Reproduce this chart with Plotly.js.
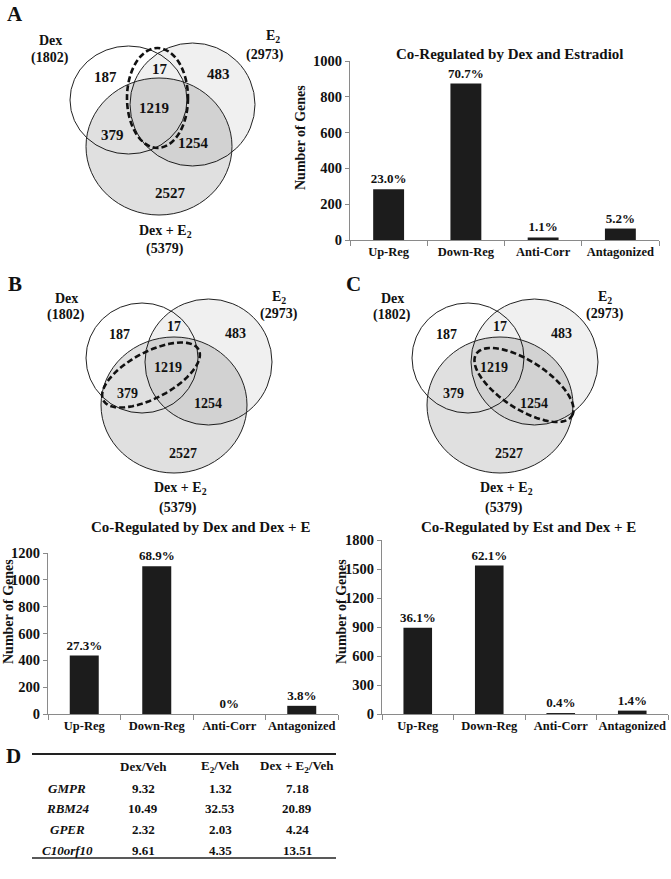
<!DOCTYPE html>
<html><head><meta charset="utf-8">
<script src="https://cdn.plot.ly/plotly-3.0.1.min.js"></script>
<style>html,body{margin:0;padding:0;background:#fff}#chart{width:671px;height:879px}</style>
</head><body><div id="chart"></div>
<script>
// ---------------- DATA ----------------
const vennSetNames = ['Dex', 'E<sub>2</sub>', 'Dex + E<sub>2</sub>'];
const vennSetTotals = [1802, 2973, 5379];
// regions: Dex only, Dex∩E2 only, E2 only, all three, Dex∩(Dex+E2) only, E2∩(Dex+E2) only, (Dex+E2) only
const vennRegionCounts = [187, 17, 483, 1219, 379, 1254, 2527];

const barCategories = ['Up-Reg', 'Down-Reg', 'Anti-Corr', 'Antagonized'];
const barTitles = ['Co-Regulated by Dex and Estradiol', 'Co-Regulated by Dex and Dex + E', 'Co-Regulated by Est and Dex + E'];
const countsA = [284, 874, 14, 64];
const pctA = ['23.0%', '70.7%', '1.1%', '5.2%'];
const countsB = [436, 1101, 0, 61];
const pctB = ['27.3%', '68.9%', '0%', '3.8%'];
const countsC = [892, 1536, 10, 35];
const pctC = ['36.1%', '62.1%', '0.4%', '1.4%'];
const yTitle = 'Number of Genes';

const tableHeaders = ['Dex/Veh', 'E<sub>2</sub>/Veh', 'Dex + E<sub>2</sub>/Veh'];
const tableGenes = ['GMPR', 'RBM24', 'GPER', 'C10orf10'];
const tableDexVeh = [9.32, 10.49, 2.32, 9.61];
const tableE2Veh = [1.32, 32.53, 2.03, 4.35];
const tableDexE2Veh = [7.18, 20.89, 4.24, 13.51];

// ---------------- LAYOUT GEOMETRY (page pixels) ----------------
const W = 671, H = 879;
const FF = 'Liberation Serif';
const INK = '#111';
const venns = [
  { circles: [[70,187,46,154],[130,255,43,166],[86,232,78,215]],
    dashed: {type:'box', x0:127, x1:188, y0:48, y1:148},
    regions: [[105,77],[160,69],[218,74],[154,108],[112,135],[193,143],[170,193]],
    setLabels: [[[50,40],[50,58]], [[273,36],[265,55]], [[165,231],[165,249]]],
    numSize: 15 },
  { circles: [[86,198,303,413],[145,272,299,425],[101,247,337,473]],
    dashed: {type:'rot', cx:151, cy:375, a:54, b:23, ang:28},
    regions: [[119,334],[174,326],[235,333],[168,367],[127,393],[208,403],[183,453]],
    setLabels: [[[66,298],[66,315]], [[279,297],[279,314]], [[180,488],[178,508]]],
    numSize: 14 },
  { circles: [[412,524,303,413],[471,598,299,425],[427,573,337,473]],
    dashed: {type:'rot', cx:524, cy:385, a:57, b:24, ang:-33},
    regions: [[446,334],[500,326],[561,333],[494,367],[453,393],[534,403],[509,453]],
    setLabels: [[[392,298],[392,315]], [[605,297],[605,314]], [[506,488],[504,508]]],
    numSize: 14 }
];
const vennFills = ['rgba(255,255,255,0)', 'rgba(0,0,0,0.06)', 'rgba(0,0,0,0.12)'];

function ellipsePath(cx, cy, a, b, angDeg) {
  const t = angDeg * Math.PI / 180, n = 72;
  let p = '';
  for (let i = 0; i <= n; i++) {
    const f = 2 * Math.PI * i / n;
    const ex = a * Math.cos(f), ey = b * Math.sin(f);
    const x = cx + ex * Math.cos(t) - ey * Math.sin(t);
    const y = cy - (ex * Math.sin(t) + ey * Math.cos(t));
    p += (i === 0 ? 'M' : 'L') + x.toFixed(2) + ',' + y.toFixed(2);
  }
  return p + 'Z';
}

const shapes = [], annotations = [];
function txt(x, y, text, size, extra) {
  annotations.push(Object.assign({ xref:'x4', yref:'y4', x, y, text, showarrow:false,
    xanchor:'center', yanchor:'middle',
    font:{ family: FF, size, color: INK, weight: 'bold' } }, extra || {}));
}

venns.forEach(v => {
  v.circles.forEach((c, i) => {
    shapes.push({ type:'circle', xref:'x4', yref:'y4', x0:c[0], x1:c[1], y0:c[2], y1:c[3],
      fillcolor: vennFills[i], line:{ color:'#222', width:1 }, layer:'above' });
  });
  const d = v.dashed;
  const dl = { color:'#111', width:2.6, dash:'6px,3px' };
  if (d.type === 'box') shapes.push({ type:'circle', xref:'x4', yref:'y4', x0:d.x0, x1:d.x1, y0:d.y0, y1:d.y1, line: dl, fillcolor:'rgba(0,0,0,0)', layer:'above' });
  else shapes.push({ type:'path', xref:'x4', yref:'y4', path: ellipsePath(d.cx, d.cy, d.a, d.b, d.ang), line: dl, fillcolor:'rgba(0,0,0,0)', layer:'above' });
  vennRegionCounts.forEach((n, i) => txt(v.regions[i][0], v.regions[i][1], String(n), v.numSize));
  vennSetNames.forEach((name, i) => {
    txt(v.setLabels[i][0][0], v.setLabels[i][0][1], name, 14);
    txt(v.setLabels[i][1][0], v.setLabels[i][1][1], '(' + vennSetTotals[i] + ')', 14);
  });
});

// Panel letters
[['A',15,14],['B',15,284],['C',353,284],['D',13,756]].forEach(p => txt(p[1], p[2], p[0], 21));

// Bar titles and y titles
txt(510, 54, barTitles[0], 15);
txt(200, 527, barTitles[1], 15);
txt(528, 527, barTitles[2], 15);
txt(300, 138, yTitle, 14, { textangle: -90 });
txt(8, 612, yTitle, 14, { textangle: -90 });
txt(341, 612, yTitle, 14, { textangle: -90 });

// Table D
const colX = [143, 220, 297], rowY = [788, 808, 829, 850];
shapes.push({ type:'line', xref:'x4', yref:'y4', x0:32, x1:336, y0:754, y1:754, line:{ color:'#222', width:2 } });
shapes.push({ type:'line', xref:'x4', yref:'y4', x0:32, x1:336, y0:858, y1:858, line:{ color:'#222', width:1.6 } });
tableHeaders.forEach((h, i) => txt(colX[i], 766, h, 13));
const tableCols = [tableDexVeh, tableE2Veh, tableDexE2Veh];
tableGenes.forEach((g, r) => {
  txt(67, rowY[r], '<i>' + g + '</i>', 13);
  tableCols.forEach((col, c) => txt(colX[c], rowY[r], col[r].toFixed(2), 13));
});

// ---------------- BAR TRACES ----------------
function barTrace(vals, labels, xa, ya) {
  return { type:'bar', x: barCategories, y: vals, text: labels, texttemplate:'%{text}',
    textposition:'outside', constraintext:'none', cliponaxis:false,
    textfont:{ family: FF, size: 13, color: INK, weight:'bold' },
    marker:{ color:'#1c1c1c' }, width: 0.4, xaxis: xa, yaxis: ya, hoverinfo:'skip' };
}
const data = [
  barTrace(countsA, pctA, 'x', 'y'),
  barTrace(countsB, pctB, 'x2', 'y2'),
  barTrace(countsC, pctC, 'x3', 'y3'),
  { type:'scatter', x:[], y:[], xaxis:'x4', yaxis:'y4', hoverinfo:'skip', showlegend:false }
];

function xax(x0, x1, anchor) {
  return { domain:[x0 / W, x1 / W], anchor, showline:true, linecolor:'#8a8a8a', linewidth:1,
    ticks:'outside', tickson:'boundaries', ticklen:5, tickcolor:'#8a8a8a', tickangle:0,
    tickfont:{ family: FF, size: 12.5, color: INK, weight:'bold' }, showgrid:false, zeroline:false, fixedrange:true };
}
function yax(yBottom, yTop, range, dtick, anchor) {
  return { domain:[1 - yBottom / H, 1 - yTop / H], anchor, range, dtick, showline:true, linecolor:'#8a8a8a',
    linewidth:1, ticks:'outside', ticklen:4, tickcolor:'#8a8a8a', showgrid:false, zeroline:false,
    tickfont:{ family: FF, size: 14.5, color: INK, weight:'bold' }, fixedrange:true };
}

const layout = {
  width: W, height: H, margin:{ l:0, r:0, t:0, b:0 }, showlegend:false,
  paper_bgcolor:'#fff', plot_bgcolor:'rgba(0,0,0,0)',
  font:{ family: FF, color: INK },
  xaxis: xax(350, 659, 'y'), yaxis: yax(240, 61, [0, 1000], 200, 'x'),
  xaxis2: xax(48, 338, 'y2'), yaxis2: yax(714, 553, [0, 1200], 200, 'x2'),
  xaxis3: xax(382, 668, 'y3'), yaxis3: yax(714, 540, [0, 1800], 300, 'x3'),
  xaxis4: { domain:[0, 1], range:[0, W], visible:false, fixedrange:true, anchor:'y4' },
  yaxis4: { domain:[0, 1], range:[H, 0], visible:false, fixedrange:true, anchor:'x4' },
  shapes, annotations, bargap: 0.6
};
Plotly.newPlot('chart', data, layout, { staticPlot:true, displayModeBar:false });
</script></body></html>
